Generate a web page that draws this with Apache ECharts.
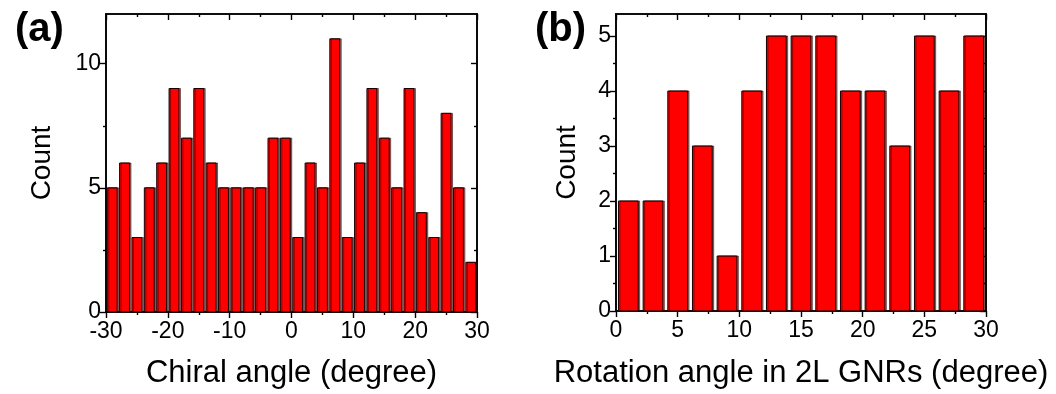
<!DOCTYPE html>
<html>
<head>
<meta charset="utf-8">
<script src="https://cdn.jsdelivr.net/npm/echarts@6/dist/echarts.min.js"></script>
<style>
  html, body { margin: 0; padding: 0; background: #fff; }
  #chart { width: 1056px; height: 394px; }
</style>
</head>
<body>
<div id="chart"></div>
<script>
// Panel (a): chiral angle histogram, 2-degree bins centred on odd values
const chiralBins = [-29, -27, -25, -23, -21, -19, -17, -15, -13, -11, -9, -7, -5, -3, -1,
                    1, 3, 5, 7, 9, 11, 13, 15, 17, 19, 21, 23, 25, 27, 29];
const chiralCounts = [5, 6, 3, 5, 6, 9, 7, 9, 6, 5, 5, 5, 5, 7, 7,
                      3, 6, 5, 11, 3, 6, 9, 7, 5, 9, 4, 3, 8, 5, 2];
const chiralTicks = [-30, -20, -10, 0, 10, 20, 30];
const countTicksA = [0, 5, 10];

// Panel (b): rotation angle in bilayer GNRs
const rotationBins = [1, 3, 5, 7, 9, 11, 13, 15, 17, 19, 21, 23, 25, 27, 29];
const rotationCounts = [2, 2, 4, 3, 1, 4, 5, 5, 5, 4, 4, 3, 5, 4, 5];
const rotationTicks = [0, 5, 10, 15, 20, 25, 30];
const countTicksB = [0, 1, 2, 3, 4, 5];

const BIN = 2;
const FILL = 0.8;
const FONT = 'Liberation Sans, Arial, sans-serif';

function midpoints(arr) {
  const out = [];
  for (let i = 0; i < arr.length - 1; i++) out.push((arr[i] + arr[i + 1]) / 2);
  return out;
}

// Four axes per direction: main (labels + major ticks), minor ticks,
// and their mirrors on the opposite side of the frame.
function axisSet(kind, gridIndex, min, max, major, minor, name, nameGap) {
  const isX = kind === 'x';
  const base = {
    type: 'value', gridIndex, min, max,
    splitLine: { show: false },
    axisLine: { show: true, onZero: false, lineStyle: { color: '#000', width: 1.6 } }
  };
  const posMain = isX ? 'bottom' : 'left';
  const posMirror = isX ? 'top' : 'right';
  return [
    Object.assign({}, base, {
      position: posMain,
      name, nameLocation: 'middle', nameGap,
      nameTextStyle: { fontFamily: FONT, fontSize: isX ? 31 : 28, color: '#000' },
      axisTick: { show: true, inside: false, length: 6, customValues: major, lineStyle: { color: '#000', width: 1.4 } },
      axisLabel: { show: true, customValues: major, fontFamily: FONT, fontSize: 23, color: '#000', margin: isX ? 8 : 5 }
    }),
    Object.assign({}, base, {
      position: posMain,
      axisTick: { show: true, inside: false, length: 3, customValues: minor, lineStyle: { color: '#000', width: 1.4 } },
      axisLabel: { show: false }
    }),
    Object.assign({}, base, {
      position: posMirror,
      axisTick: { show: true, inside: true, length: 6, customValues: major, lineStyle: { color: '#000', width: 1.4 } },
      axisLabel: { show: false }
    }),
    Object.assign({}, base, {
      position: posMirror,
      axisTick: { show: true, inside: true, length: 3, customValues: minor, lineStyle: { color: '#000', width: 1.4 } },
      axisLabel: { show: false }
    })
  ];
}

function barSeries(xAxisIndex, yAxisIndex, bins, counts) {
  return {
    type: 'custom',
    xAxisIndex, yAxisIndex,
    data: bins.map((b, i) => [b, counts[i]]),
    renderItem: function (params, api) {
      const x = api.value(0), y = api.value(1);
      const half = BIN / 2 * FILL;
      const tl = api.coord([x - half, y]);
      const br = api.coord([x + half, 0]);
      return {
        type: 'rect',
        shape: { x: tl[0], y: tl[1], width: br[0] - tl[0], height: br[1] - tl[1] },
        style: {
          fill: '#ff0000', stroke: '#1a0000', lineWidth: 1,
          shadowColor: 'rgba(60,0,0,0.55)', shadowOffsetX: 1.5, shadowOffsetY: 0, shadowBlur: 0
        }
      };
    },
    z: 1
  };
}

const xA = axisSet('x', 0, -30, 30, chiralTicks, midpoints(chiralTicks), 'Chiral angle (degree)', 46);
const yA = axisSet('y', 0, 0, 12, countTicksA, midpoints(countTicksA), 'Count', 50);
const xB = axisSet('x', 1, 0, 30, rotationTicks, midpoints(rotationTicks), 'Rotation angle in 2L GNRs (degree)', 47);
const yB = axisSet('y', 1, 0, 5.4, countTicksB, midpoints(countTicksB), 'Count', 35);

const option = {
  animation: false,
  backgroundColor: '#fff',
  textStyle: { fontFamily: FONT },
  grid: [
    { left: 106, right: 579, top: 14, bottom: 82 },
    { left: 616, right: 70, top: 14, bottom: 82 }
  ],
  title: [
    { text: '(a)', left: 10, top: 5, textStyle: { fontFamily: FONT, fontSize: 40, fontWeight: 'bold', color: '#000' } },
    { text: '(b)', left: 530, top: 5, textStyle: { fontFamily: FONT, fontSize: 40, fontWeight: 'bold', color: '#000' } }
  ],
  xAxis: xA.concat(xB),
  yAxis: yA.concat(yB),
  series: [
    barSeries(0, 0, chiralBins, chiralCounts),
    barSeries(4, 4, rotationBins, rotationCounts)
  ]
};

echarts.init(document.getElementById('chart'), null, { renderer: 'canvas' }).setOption(option);
</script>
</body>
</html>
